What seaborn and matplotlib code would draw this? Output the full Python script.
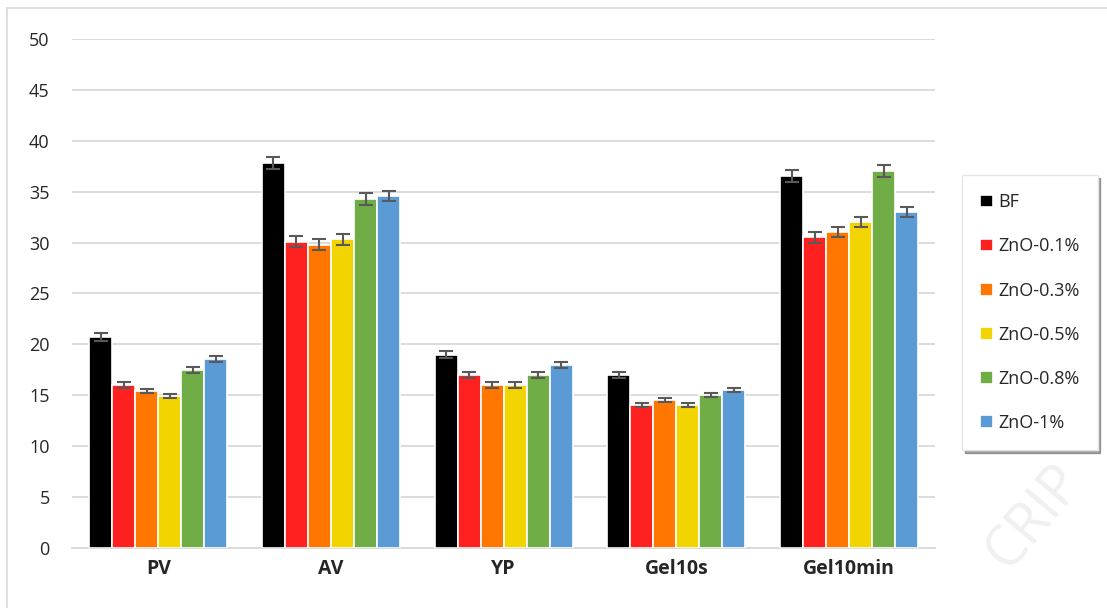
import pandas as pd
import seaborn as sns
import matplotlib.pyplot as plt
from matplotlib.patches import Rectangle

# Dados
categories = ['PV', 'AV', 'YP', 'Gel10s', 'Gel10min']
samples = ['BF', 'ZnO-0.1%', 'ZnO-0.3%', 'ZnO-0.5%', 'ZnO-0.8%', 'ZnO-1%']
bf = [20.7, 37.8, 19.0, 17.0, 36.5]
zno_01 = [16.0, 30.1, 17.0, 14.0, 30.5]
zno_03 = [15.4, 29.8, 16.0, 14.5, 31.0]
zno_05 = [14.9, 30.3, 16.0, 14.0, 32.0]
zno_08 = [17.5, 34.3, 17.0, 15.0, 37.0]
zno_1 = [18.6, 34.6, 18.0, 15.5, 33.0]
err_bf = [0.4, 0.6, 0.3, 0.3, 0.6]
err_01 = [0.3, 0.5, 0.3, 0.2, 0.5]
err_03 = [0.2, 0.5, 0.3, 0.2, 0.5]
err_05 = [0.2, 0.5, 0.3, 0.2, 0.5]
err_08 = [0.3, 0.6, 0.3, 0.2, 0.6]
err_1 = [0.3, 0.5, 0.3, 0.2, 0.5]
colors = ['#000000', '#FF2020', '#FF7700', '#F2D400', '#70AD47', '#5B9BD5']

values = [bf, zno_01, zno_03, zno_05, zno_08, zno_1]
errors = [err_bf, err_01, err_03, err_05, err_08, err_1]

rows = []
for s, vals in zip(samples, values):
    for c, v in zip(categories, vals):
        rows.append({'Propriedade': c, 'Amostra': s, 'Valor': v})
df = pd.DataFrame(rows)

sns.set_style('white')
plt.rcParams['font.family'] = ['Open Sans', 'DejaVu Sans']

fig = plt.figure(figsize=(11.07, 6.08), dpi=100)
ax = fig.add_axes([0.065, 0.0987, 0.78, 0.8373])

sns.barplot(data=df, x='Propriedade', y='Valor', hue='Amostra', order=categories,
            hue_order=samples, palette=colors, saturation=1, errorbar=None, width=0.8,
            edgecolor='white', linewidth=1.2, ax=ax, zorder=3)

# Barras de erro
for cont, errs in zip(ax.containers, errors):
    xs = [p.get_x() + p.get_width() / 2 for p in cont.patches]
    hs = [p.get_height() for p in cont.patches]
    ax.errorbar(xs, hs, yerr=errs, fmt='none', ecolor='#595959', elinewidth=1.5,
                capsize=5, capthick=1.5, zorder=4)

ax.set_ylim(0, 50)
ax.set_xlim(-0.5, 4.5)
ax.set_yticks(range(0, 51, 5))
ax.yaxis.grid(True, color='#D9D9D9', linewidth=1.3, zorder=0)
ax.set_axisbelow(True)
for side in ['top', 'right', 'left']:
    ax.spines[side].set_visible(False)
ax.spines['bottom'].set_color('#D9D9D9')
ax.spines['bottom'].set_linewidth(1.3)
ax.tick_params(axis='y', length=0, labelsize=13, pad=16)
ax.tick_params(axis='x', length=0, labelsize=14, pad=8)
for lbl in ax.get_xticklabels():
    lbl.set_fontweight('bold')
ax.set_xlabel('')
ax.set_ylabel('')

handles, labels = ax.get_legend_handles_labels()
ax.legend(handles, labels, loc='upper left', bbox_to_anchor=(0.869, 0.712),
          bbox_transform=fig.transFigure, frameon=True, shadow=True, fancybox=False,
          fontsize=13, labelspacing=1.45, handlelength=0.7, handleheight=0.7,
          handletextpad=0.3, borderpad=1.0, borderaxespad=0, edgecolor='#E6E6E6')

# Borda da figura e marca d'água
fig.patches.append(Rectangle((0.006, -0.01), 1.0, 0.997, transform=fig.transFigure,
                             fill=False, edgecolor='#D9D9D9', linewidth=1.2))
fig.text(0.935, 0.15, 'CRIP', fontsize=40, color='#F0F0F0', rotation=50,
         ha='center', va='center', zorder=0)

plt.savefig('out.png', dpi=100)
